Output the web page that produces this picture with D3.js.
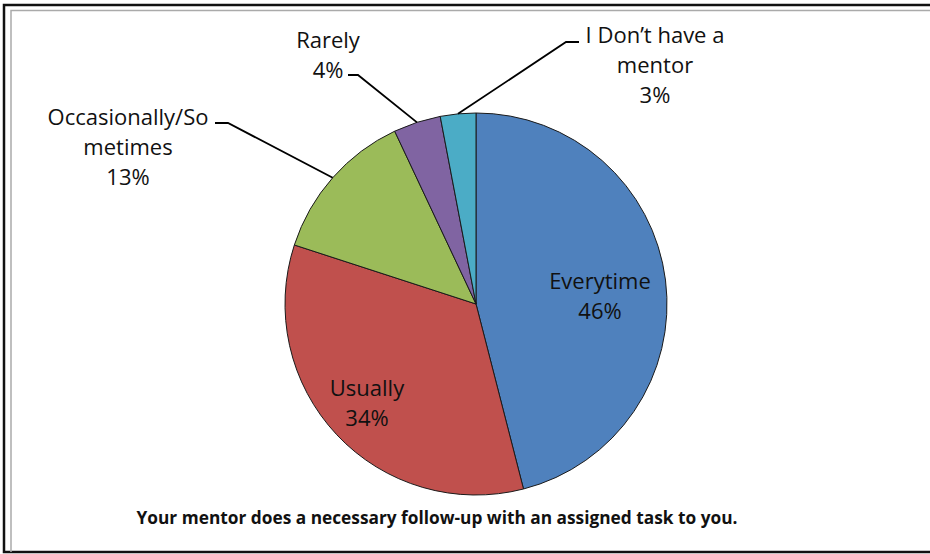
<!DOCTYPE html>
<html>
<head>
<meta charset="utf-8">
<script src="https://cdn.jsdelivr.net/npm/d3@7"></script>
<style>
  body { margin: 0; background: #fff; }
  text { font-family: "Open Sans", Lato, sans-serif; fill: #111; }
</style>
</head>
<body>
<div class="canvas"></div>
<script>
// data
const categories = ['Everytime', 'Usually', 'Occasionally/Sometimes', 'Rarely', "I Don't have a mentor"];
const values = [46, 34, 13, 4, 3];
const colors = ['#4F81BD', '#C0504D', '#9BBB59', '#8064A2', '#4BACC6'];
// how each label is broken into lines (as in the picture)
const labelLines = [
  ['Everytime'],
  ['Usually'],
  ['Occasionally/So', 'metimes'],
  ['Rarely'],
  ['I Don\u2019t have a', 'mentor']
];
const title = 'Your mentor does a necessary follow-up with an assigned task to you.';

const width = 930, height = 554;

const svg = d3.select('.canvas')
  .append('svg')
  .attr('width', width)
  .attr('height', height);

// frame
svg.append('rect')
  .attr('x', 4).attr('y', 5)
  .attr('width', width + 10).attr('height', 547)
  .attr('fill', 'none')
  .attr('stroke', '#111')
  .attr('stroke-width', 2.5);
svg.append('path')
  .attr('d', `M11,${height - 2} V10.5 H${width}`)
  .attr('fill', 'none')
  .attr('stroke', '#aaa')
  .attr('stroke-width', 1.5);

const cx = 476, cy = 304, radius = 191;

const graph = svg.append('g')
  .attr('transform', `translate(${cx}, ${cy})`);

const pie = d3.pie().sort(null).value(d => d);
const arcs = pie(values);
const arc = d3.arc().innerRadius(0).outerRadius(radius);

graph.selectAll('path.slice')
  .data(arcs)
  .enter()
  .append('path')
  .attr('class', 'slice')
  .attr('d', arc)
  .attr('fill', (d, i) => colors[i])
  .attr('stroke', '#1a1a1a')
  .attr('stroke-width', 1);

// label placement (pixels relative to pie centre) and leader elbows
const labelPos = [
  { x: 124, y: -23 },
  { x: -109, y: 84 },
  { x: -348, y: -187 },
  { x: -148, y: -264 },
  { x: 179, y: -269 }
];
const leaders = [
  null,
  null,
  { start: [-261, -181], elbow: [-248, -181] },
  { start: [-128, -229], elbow: [-118, -229] },
  { start: [103, -262], elbow: [90, -262] }
];

const lineH = 30;
const fontSize = 22;

arcs.forEach((d, i) => {
  const p = labelPos[i];
  const lines = labelLines[i].concat([values[i] + '%']);
  const t = graph.append('text')
    .attr('text-anchor', 'middle')
    .attr('font-size', fontSize);
  lines.forEach((ln, j) => {
    t.append('tspan')
      .attr('x', p.x)
      .attr('y', p.y + j * lineH)
      .attr('dy', '0.35em')
      .text(ln);
  });

  const l = leaders[i];
  if (l) {
    const mid = (d.startAngle + d.endAngle) / 2;
    const edge = [Math.sin(mid) * radius, -Math.cos(mid) * radius];
    graph.append('polyline')
      .attr('points', [l.start, l.elbow, edge].map(q => q.join(',')).join(' '))
      .attr('fill', 'none')
      .attr('stroke', '#000')
      .attr('stroke-width', 1.8);
  }
});

svg.append('text')
  .attr('x', 437)
  .attr('y', 518)
  .attr('dy', '0.35em')
  .attr('text-anchor', 'middle')
  .attr('font-size', 17.3)
  .attr('font-weight', 'bold')
  .text(title);
</script>
</body>
</html>
